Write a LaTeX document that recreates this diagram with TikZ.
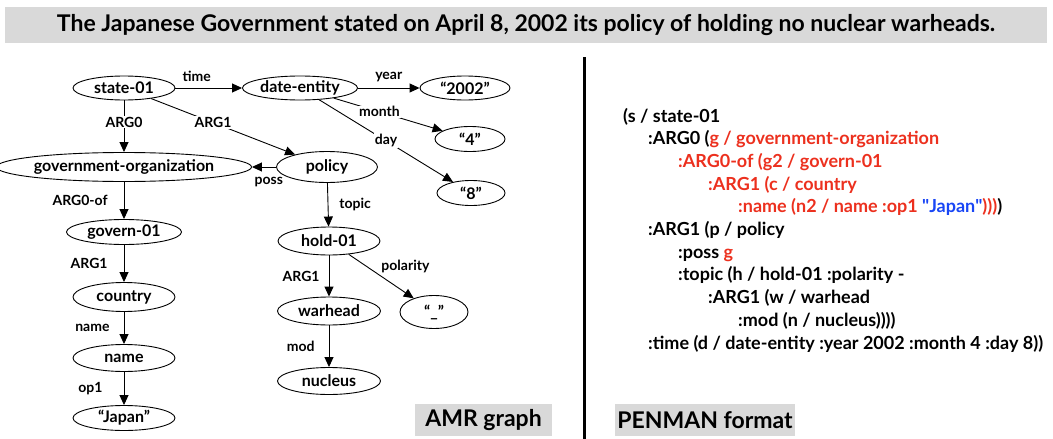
\documentclass[tikz,border=0pt]{standalone}
\usepackage{fontspec}
\setmainfont{Lato}
\usetikzlibrary{shapes.geometric,arrows.meta}
\definecolor{titlegray}{RGB}{217,217,217}
\definecolor{penred}{RGB}{236,48,30}
\definecolor{penblue}{RGB}{25,70,245}

\begin{document}
\begin{tikzpicture}[x=1pt,y=-1pt]

    \tikzstyle{concept} = [ellipse, draw, line width=0.9pt, inner sep=0pt, minimum height=26pt, font=\bfseries\fontsize{16}{18}\selectfont]
    \tikzstyle{arrow} = [line width=0.9pt,-{Triangle[length=10pt,width=9pt]}]
    \tikzstyle{role} = [font=\bfseries\fontsize{14}{16}\selectfont, inner sep=1pt]
    \tikzstyle{onedge} = [role, fill=white]
    \tikzstyle{caption} = [fill=titlegray, inner sep=2pt, minimum height=32pt, font=\bfseries\fontsize{23}{25}\selectfont]
    \tikzstyle{penman} = [anchor=base west, inner sep=0pt, font=\bfseries\fontsize{18}{20}\selectfont]

    \useasboundingbox (0,0) rectangle (1053,439);

    \node (title) [fill=titlegray, minimum width=1042pt, minimum height=36pt, font=\bfseries\fontsize{23}{26}\selectfont] at (526,25) {The Japanese Government stated on April 8, 2002 its policy of holding no nuclear warheads.};

    % AMR graph
    \node (state) [concept, minimum width=102pt, minimum height=24pt] at (124,88) {state-01};
    \node (date) [concept, minimum width=115pt, minimum height=24pt] at (300,88) {date-entity};
    \node (year) [concept, minimum width=90pt, minimum height=24pt] at (465,88) {“2002”};
    \node (month) [concept, minimum width=70pt, minimum height=25pt] at (470,139) {“4”};
    \node (day) [concept, minimum width=68pt, minimum height=25pt] at (471,193) {“8”};
    \node (gov) [concept, minimum width=233pt, minimum height=29pt] at (124,167) {government-organization};
    \node (policy) [concept, minimum width=101pt, minimum height=31pt] at (327,167) {policy};
    \node (govern) [concept, minimum width=115pt, minimum height=25pt] at (124,232) {govern-01};
    \node (hold) [concept, minimum width=102pt, minimum height=28pt] at (329,241) {hold-01};
    \node (country) [concept, minimum width=102pt, minimum height=29pt] at (124,297) {country};
    \node (warhead) [concept, minimum width=103pt, minimum height=28pt] at (329,311) {warhead};
    \node (neg) [concept, minimum width=68pt, minimum height=33pt] at (434,312) {“\_”};
    \node (name) [concept, minimum width=102pt, minimum height=27pt] at (124,358) {name};
    \node (nucleus) [concept, minimum width=103pt, minimum height=27pt] at (329,381) {nucleus};
    \node (japan) [concept, minimum width=102pt, minimum height=25pt] at (124,418) {“Japan”};

    \draw [arrow] (state) -- (date) node [role, pos=0.32, above=5pt] {time};
    \draw [arrow] (date) -- (year) node [role, midway, above=5pt] {year};
    \draw [arrow] (date) -- (month) node [onedge, pos=0.42] {month};
    \draw [arrow] (date) -- (day) node [onedge, pos=0.5] {day};
    \draw [arrow] (state) -- (gov) node [onedge, pos=0.42] {ARG0};
    \draw [arrow] (state) -- (policy) node [onedge, pos=0.43] {ARG1};
    \draw [arrow] (policy) -- (gov) node [role, pos=0.3, below=9pt] {poss};
    \draw [arrow] (gov) -- (govern) node [role, midway, left=15pt] {ARG0-of};
    \draw [arrow] (govern) -- (country) node [role, midway, left=15pt] {ARG1};
    \draw [arrow] (country) -- (name) node [role, midway, left=13pt] {name};
    \draw [arrow] (name) -- (japan) node [role, midway, left=20pt] {op1};
    \draw [arrow] (policy) -- (hold) node [role, midway, right=10pt] {topic};
    \draw [arrow] (hold) -- (warhead) node [role, midway, left=8pt] {ARG1};
    \draw [arrow] (hold) -- (neg) node [role, pos=0.45, anchor=south west, xshift=2pt] {polarity};
    \draw [arrow] (warhead) -- (nucleus) node [role, midway, left=13pt] {mod};

    \node (amrcap) [caption, minimum width=137pt] at (483.5,420) {AMR graph};

    % divider
    \coordinate (divtop) at (584,57);
    \coordinate (divbot) at (584,439);
    \draw [line width=3pt] (divtop) -- (divbot);

    % PENMAN notation
    \node (pen1) [penman] at (623,122) {(s / state-01};
    \node (pen2) [penman] at (648,144.7) {:ARG0 (\textcolor{penred}{g / government-organization}};
    \node (pen3) [penman, text=penred] at (678,167.4) {:ARG0-of (g2 / govern-01};
    \node (pen4) [penman, text=penred] at (708,190.1) {:ARG1 (c / country};
    \node (pen5) [penman, text=penred] at (738,212.8) {:name (n2 / name :op1 \textcolor{penblue}{\textquotedbl Japan\textquotedbl})))\textcolor{black}{)}};
    \node (pen6) [penman] at (648,235.5) {:ARG1 (p / policy};
    \node (pen7) [penman] at (678,258.2) {:poss \textcolor{penred}{g}};
    \node (pen8) [penman] at (678,280.9) {:topic (h / hold-01 :polarity -};
    \node (pen9) [penman] at (708,303.6) {:ARG1 (w / warhead};
    \node (pen10) [penman] at (738,326.3) {:mod (n / nucleus))))};
    \node (pen11) [penman] at (648,349) {:time (d / date-entity :year 2002 :month 4 :day 8))};

    \node (pencap) [caption, minimum width=176pt] at (705,420) {PENMAN format};

\end{tikzpicture}
\end{document}
